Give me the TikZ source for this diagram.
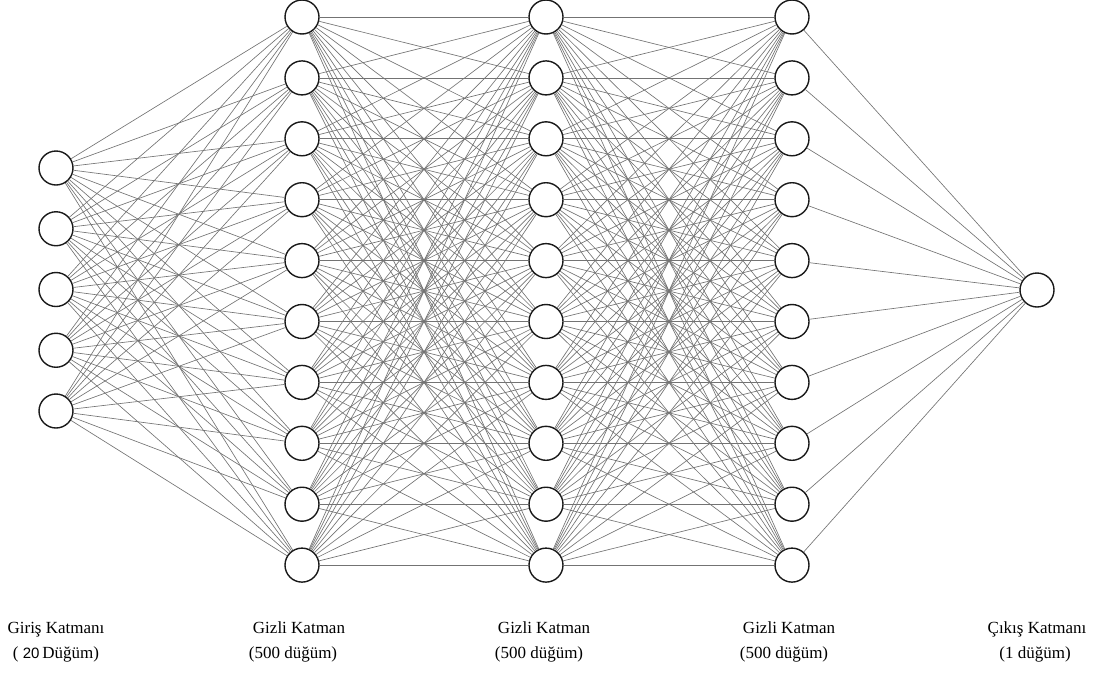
\documentclass[tikz,border=0pt]{standalone}
\usepackage{fontspec}
\setmainfont{Liberation Serif}
\newfontfamily\numfont{Liberation Sans}
\begin{document}
\begin{tikzpicture}[x=1pt,y=-1pt,
  neuron/.style={circle,draw=black!90,line width=1.4pt,fill=white,minimum size=34pt,inner sep=0pt},
  link/.style={draw=black!55,line width=0.65pt},
  caption/.style={font=\fontsize{17}{20}\selectfont,inner sep=0pt,anchor=base}]
\useasboundingbox (0,0) rectangle (1100,675);
% neurons
\foreach \k in {1,...,5}
  \node[neuron] (in\k) at (56,{168+60.75*(\k-1)}) {};
\foreach \l/\x in {1/302,2/546,3/792}
  \foreach \k in {1,...,10}
    \node[neuron] (h\l-\k) at (\x,{17+60.9*(\k-1)}) {};
\node[neuron] (out) at (1037,290) {};
% connections
\foreach \a in {1,...,5}
  \foreach \b in {1,...,10}
    \path[link] (in\a) -- (h1-\b);
\foreach \a in {1,...,10}
  \foreach \b in {1,...,10}
    {\path[link] (h1-\a) -- (h2-\b);
     \path[link] (h2-\a) -- (h3-\b);}
\foreach \a in {1,...,10}
  \path[link] (h3-\a) -- (out);
% captions
\node[caption] (c1a) at (56,633) {Giriş Katmanı};
\node[caption] (c1b) at (56,658) {( {\numfont\fontsize{15}{18}\selectfont 20}\,Düğüm)};
\node[caption] (c2a) at (299,633) {Gizli Katman};
\node[caption] (c2b) at (293,658) {(500 düğüm)};
\node[caption] (c3a) at (544,633) {Gizli Katman};
\node[caption] (c3b) at (539,658) {(500 düğüm)};
\node[caption] (c4a) at (789,633) {Gizli Katman};
\node[caption] (c4b) at (784,658) {(500 düğüm)};
\node[caption] (c5a) at (1037,633) {Çıkış Katmanı};
\node[caption] (c5b) at (1035,658) {(1 düğüm)};
\end{tikzpicture}
\end{document}
